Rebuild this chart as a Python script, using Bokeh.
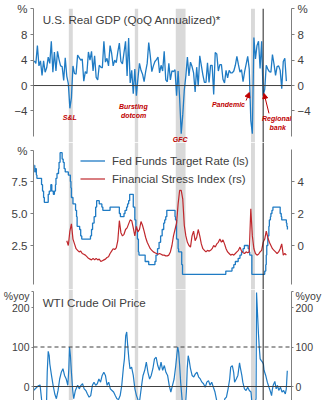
import numpy as np
from bokeh.plotting import figure
from bokeh.layouts import column
from bokeh.models import (Range1d, LinearAxis, FixedTicker, Span, BoxAnnotation,
                          Label, Arrow, NormalHead, Legend, LegendItem, NumeralTickFormatter)
from bokeh.embed import file_html
from bokeh.resources import INLINE

# ---------------- data ----------------
recessions = [(1990.58, 1991.22), (2001.25, 2001.79), (2007.87, 2009.45), (2020.03, 2020.67)]
marker_year = 2022.0

# U.S. real GDP, QoQ annualized (%), quarterly from 1985Q1, capped as drawn
gdp = [3.9, 3.5, 6.3, 3.1, 3.9, 1.6, 3.9, 2.1, 2.8, 4.5, 3.5, 7.0, 2.1, 5.3, 2.3, 5.4,
       4.1, 3.1, 3.0, 0.8, 4.4, 1.5, 0.3, -3.6, -1.9, 3.1, 1.9, 1.8, 4.8, 4.4, 4.0, 4.2,
       0.7, 2.2, 1.9, 5.3, 4.0, 5.4, 2.3, 4.7, 1.3, 0.9, 3.2, 2.9, 2.8, 7.0, 3.7, 4.3,
       3.1, 6.3, 5.1, 3.1, 4.0, 3.6, 5.3, 6.7, 3.8, 3.4, 5.2, 7.0, 1.5, 7.5, 0.4, 2.4,
       -1.3, 2.6, -1.6, 1.1, 3.5, 2.4, 1.8, 0.6, 2.2, 3.5, 6.8, 4.7, 2.2, 3.1, 3.8, 4.1,
       4.5, 2.0, 3.2, 2.3, 5.4, 0.9, 0.6, 3.5, 0.9, 2.3, 2.2, 2.5, -1.6, 2.3, -2.1, -7.6,
       -4.6, -0.7, 1.5, 4.5, 1.5, 3.7, 3.0, 2.0, -1.0, 2.9, -0.1, 4.7, 3.2, 1.7, 0.5, 0.5,
       3.6, 0.5, 3.2, 3.2, -1.4, 5.2, 5.0, 2.3, 3.3, 3.3, 1.0, 0.4, 2.4, 1.2, 2.4, 2.0,
       2.0, 2.3, 3.2, 4.6, 3.3, 2.1, 2.5, 0.6, 2.2, 3.4, 4.6, 2.6, -5.5, -7.6, 7.6, 4.2,
       6.3, 7.0, 2.7, 7.0, -1.6, -0.6, 3.2, 2.6, 2.2, 2.1, 4.9, 3.4, 1.6, 3.0, 3.1, 2.4,
       -0.5, 3.8, 4.3, 0.7]
gdp_start = 1985.0
gdp_ticks = [-4, 0, 4, 8]

# Fed funds target rate (%), change dates and levels
ff_dates = [1985.0, 1985.08, 1985.17, 1985.33, 1985.42, 1986.17, 1986.33, 1986.5, 1986.62,
            1987.25, 1987.42, 1987.67, 1987.83, 1988.08, 1988.25, 1988.42, 1988.5, 1988.67,
            1988.92, 1989.0, 1989.17, 1989.5, 1989.67, 1989.83, 1990.0, 1990.5, 1990.83,
            1990.92, 1991.0, 1991.25, 1991.67, 1991.83, 1991.92, 1992.33, 1992.5, 1992.67,
            1994.08, 1994.25, 1994.42, 1994.67, 1994.92, 1995.08, 1995.5, 1995.92, 1996.08,
            1997.25, 1998.75, 1998.92, 1999.5, 1999.67, 1999.92, 2000.08, 2000.25, 2000.42,
            2001.0, 2001.25, 2001.42, 2001.67, 2001.83, 2001.92, 2002.92, 2003.5, 2004.5,
            2004.67, 2004.92, 2005.17, 2005.42, 2005.67, 2005.92, 2006.08, 2006.25, 2006.42,
            2007.75, 2007.83, 2008.0, 2008.25, 2008.33, 2008.83, 2008.96, 2015.96, 2016.96,
            2017.25, 2017.5, 2017.96, 2018.25, 2018.5, 2018.75, 2018.96, 2019.58, 2019.75,
            2019.83, 2020.17, 2022.25, 2022.42, 2022.5, 2022.58, 2022.75, 2022.92, 2023.0,
            2023.17, 2023.25, 2023.42, 2023.58, 2024.75, 2024.92, 2025.0, 2025.75, 2025.83,
            2025.92]
ff_rates = [8.75, 8.25, 8.5, 8.0, 7.75, 7.25, 6.75, 6.25, 5.875,
            6.5, 6.75, 7.25, 6.75, 6.5, 6.75, 7.25, 7.75, 8.125,
            8.5, 9.0, 9.75, 9.25, 9.0, 8.5, 8.25, 8.0, 7.5,
            7.0, 6.25, 5.75, 5.25, 4.75, 4.0, 3.75, 3.25, 3.0,
            3.25, 3.75, 4.25, 4.75, 5.5, 6.0, 5.75, 5.5, 5.25,
            5.5, 5.0, 4.75, 5.0, 5.25, 5.5, 5.75, 6.0, 6.5,
            5.5, 4.5, 3.75, 3.0, 2.0, 1.75, 1.25, 1.0, 1.25,
            1.75, 2.25, 2.75, 3.25, 3.75, 4.25, 4.5, 4.75, 5.25,
            4.75, 4.5, 3.0, 2.25, 2.0, 1.0, 0.25, 0.5, 0.75,
            1.0, 1.25, 1.5, 1.75, 2.0, 2.25, 2.5, 2.25, 2.0,
            1.75, 0.25, 0.5, 1.0, 1.75, 2.5, 3.25, 4.0, 4.5,
            4.75, 5.0, 5.25, 5.5, 5.0, 4.75, 4.5, 4.25, 4.0,
            3.75]
ff_ticks = [2.5, 5.0, 7.5]

# Financial stress index (rs), quarterly from 1990Q2
fsi = [0.3, 0.0, 0.9, 1.35, 0.4, 0.1, -0.2, -0.3, -0.4, -0.35, -0.5, -0.55, -0.6, -0.7,
       -0.8, -0.85, -0.9, -0.8, -0.9, -0.8, -0.9, -0.85, -1.0, -0.95, -0.9, -0.85, -0.75,
       -0.7, -0.5, -0.35, -0.2, -0.25, -0.15, 0.3, 1.55, 0.8, 0.6, 0.7, 1.0, 1.1, 1.35,
       1.6, 1.55, 1.1, 0.6, 1.2, 0.85, 1.0, 1.5, 1.25, 0.9, 0.5, 0.2, 0.0, -0.2, -0.3,
       -0.4, -0.45, -0.5, -0.55, -0.5, -0.55, -0.6, -0.6, -0.65, -0.65, -0.6, -0.4, 0.0,
       0.6, 1.0, 1.4, 2.6, 3.45, 3.45, 2.9, 1.25, 0.6, 0.2, 0.0, -0.1, 0.6, 0.9, 0.3, 0.5,
       1.0, 0.6, 0.1, -0.2, -0.3, -0.4, -0.3, -0.35, -0.3, -0.2, 0.0, -0.1, 0.1, 0.2, 0.4,
       0.2, 0.35, 0.1, -0.2, -0.4, -0.5, -0.6, -0.55, -0.6, -0.5, -0.4, -0.3, -0.1, -0.35,
       -0.45, -0.5, -0.4, -0.45, -0.4, 2.3, 0.6, -0.2, -0.5, -0.6, -0.55, -0.4, -0.3, 0.2,
       0.4, 0.9, 0.5, 0.2, 0.0, -0.2, -0.3, -0.4, -0.5, -0.4, -0.2, 0.1, -0.6, -0.5, -0.6]
fsi_start = 1990.25
fsi_ticks = [0, 2, 4]

# WTI crude oil price, % yoy
oil_dates = [1984.87, 1985.40, 1985.66, 1985.93, 1986.19, 1986.46, 1986.72, 1986.98, 1987.09,
             1987.25, 1987.41, 1987.51, 1987.78, 1988.04, 1988.31, 1988.57, 1988.84, 1989.10,
             1989.36, 1989.63, 1989.89, 1990.16, 1990.42, 1990.58, 1990.69, 1990.84, 1991.00,
             1991.21, 1991.37, 1991.64, 1992.01, 1992.27, 1992.54, 1992.80, 1993.06, 1993.33,
             1993.59, 1993.86, 1994.12, 1994.39, 1994.65, 1994.92, 1995.18, 1995.44, 1995.71,
             1995.97, 1996.24, 1996.50, 1996.77, 1997.03, 1997.29, 1997.56, 1997.82, 1998.09,
             1998.35, 1998.62, 1998.88, 1999.14, 1999.41, 1999.57, 1999.78, 1999.94, 2000.10,
             2000.31, 2000.47, 2000.73, 2001.00, 2001.26, 2001.52, 2001.79, 2001.95, 2002.21,
             2002.42, 2002.58, 2002.85, 2003.11, 2003.37, 2003.64, 2003.90, 2004.17, 2004.43,
             2004.70, 2004.96, 2005.22, 2005.49, 2005.75, 2006.02, 2006.28, 2006.55, 2006.81,
             2007.07, 2007.34, 2007.60, 2007.87, 2008.03, 2008.19, 2008.34, 2008.50, 2008.66,
             2008.93, 2009.19, 2009.45, 2009.61, 2009.72, 2009.88, 2010.04, 2010.25, 2010.51,
             2010.78, 2011.04, 2011.30, 2011.57, 2011.83, 2012.10, 2012.36, 2012.63, 2012.89,
             2013.16, 2013.42, 2013.68, 2013.95, 2014.21, 2014.48, 2014.90, 2015.27, 2015.64,
             2015.80, 2016.06, 2016.33, 2016.59, 2016.75, 2017.01, 2017.23, 2017.38, 2017.65,
             2017.91, 2018.18, 2018.34, 2018.55, 2018.71, 2018.97, 2019.23, 2019.50, 2019.76,
             2020.03, 2020.29, 2020.61, 2020.85, 2020.93, 2021.24, 2021.35, 2021.51, 2021.67,
             2021.88, 2022.04, 2022.14, 2022.41, 2022.67, 2022.94, 2023.20, 2023.36, 2023.46,
             2023.62, 2023.89, 2024.10, 2024.31, 2024.52, 2024.79, 2025.05, 2025.31, 2025.58,
             2025.74, 2025.90]
oil_yoy = [-10, -2, 2, 4, -35, -50, -55, -40, 36,
           89, 78, 57, 28, 3, -19, -31, -10, 19,
           36, 45, 28, 19, 3, 45, 100, 78, 36,
           -10, -31, -10, 3, -6, 3, 7, -6, -10,
           -19, -27, -23, 3, 11, 3, 7, 19, 11,
           28, 36, 28, 3, 11, -6, -10, -14, -23,
           -31, -33, -23, 3, 49, 70, 129, 138, 104,
           66, 45, 49, 28, -6, -23, -35, -45, -14,
           11, 28, 41, 62, 36, 19, 28, 45, 70,
           74, 53, 41, 62, 41, 53, 36, 28, 3,
           -14, 3, 19, 53, 78, 100, 87, 53, 11,
           -40, -55, -45, -6, 45, 78, 66, 45, 28,
           24, 32, 36, 24, 19, 11, 7, -2, 11,
           15, 3, 11, -2, -14, -35, -45, -50, -45,
           -31, -27, -6, 19, 49, 53, 36, 11, 19,
           28, 60, 45, 28, 11, -6, -10, -2, -10,
           -14, -60, -50, -30, 238, 133, 104, 70, 66,
           62, 57, 41, 28, 11, -2, -14, -23, -10,
           3, 13, -6, 3, -10, -2, -14, -10, -19,
           -6, 40]
oil_ticks = [0, 100, 200]

# ---------------- style ----------------
BLUE = "#1F7BC4"
RED = "#C0282D"
ANN = "#C00000"
AXC = "#7F7F7F"
TXT = "#404040"
BAND = "#D9D9D9"
FONT = "Liberation Sans"
X0, X1 = 1984.87, 2026.58


def make_fig(h, yr, top):
    p = figure(width=324, height=h, x_range=Range1d(X0, X1), y_range=Range1d(*yr),
               x_axis_type=None, y_axis_type=None, toolbar_location=None,
               output_backend="svg", min_border_left=30, min_border_right=31,
               min_border_top=top, min_border_bottom=0)
    p.outline_line_color = None
    p.background_fill_color = "white"
    p.border_fill_color = "white"
    for a, b in recessions:
        p.add_layout(BoxAnnotation(left=a, right=b, fill_color=BAND, fill_alpha=1.0,
                                   line_color=None, level="underlay"))
    p.add_layout(Span(location=marker_year, dimension="height", line_color="#222222",
                      line_width=1))
    return p


def add_axis(p, side, ticks, bounds, unit_at, unit, fmt=None, rname="default",
             size="11.5px", tick_out=3, standoff=3):
    ax = LinearAxis(ticker=FixedTicker(ticks=list(ticks) + [unit_at]), bounds=bounds,
                    y_range_name=rname,
                    axis_line_color=AXC, axis_line_width=1,
                    major_tick_line_color=AXC, major_tick_out=tick_out, major_tick_in=0,
                    minor_tick_out=0, minor_tick_in=0,
                    major_label_text_font=FONT, major_label_text_font_size=size,
                    major_label_text_color=TXT, major_label_standoff=standoff)
    if fmt:
        ax.formatter = NumeralTickFormatter(format=fmt)
    ax.major_label_overrides = {unit_at: unit}
    p.add_layout(ax, side)


def txt(p, x, y, s, size="11.5px", color=TXT, align="left", style="normal"):
    p.add_layout(Label(x=x, y=y, text=s, text_font=FONT, text_font_size=size,
                       text_color=color, text_align=align, text_baseline="middle",
                       text_font_style=style))


# ---------------- top: GDP ----------------
p1 = make_fig(142, (-9.0, 12.17), 8)
add_axis(p1, "left", gdp_ticks, (-8.06, 12.1), 12.1, "%")
add_axis(p1, "right", gdp_ticks, (-8.06, 12.1), 12.1, "%")
p1.add_layout(Span(location=0, dimension="width", line_color="#404040", line_width=1))
gdp_x = gdp_start + 0.25 * np.arange(len(gdp))
p1.line(gdp_x, gdp, line_color=BLUE, line_width=1.3)
txt(p1, 1986.35, 10.38, "U.S. Real GDP (QoQ Annualized)*", size="11.6px")
for x, y, s in [(1990.74, -5.05, "S&L"), (2001.0, -3.3, "Bursting"), (2001.05, -4.74, "dotcom"),
                (2008.58, -8.58, "GFC"), (2016.39, -2.92, "Pandemic"),
                (2024.2, -5.17, "Regional"), (2024.36, -6.56, "bank")]:
    txt(p1, x, y, s, size="7px", color=ANN, align="center", style="bold italic")
for xs, ys, xe, ye in [(2019.24, -2.37, 2019.76, -1.1), (2022.94, -4.4, 2022.14, -1.26)]:
    p1.add_layout(Arrow(end=NormalHead(size=5, fill_color=ANN, line_color=ANN, line_width=1),
                        x_start=xs, y_start=ys, x_end=xe, y_end=ye,
                        line_color=ANN, line_width=1))

# ---------------- middle: Fed funds & FSI ----------------
p2 = make_fig(147, (-0.9375, 10.547), 0)
p2.extra_y_ranges = {"r": Range1d(-2.75, 6.4375)}
add_axis(p2, "left", ff_ticks, (-0.547, 9.92), 9.92, "%", fmt="0.0")
ax_r = LinearAxis(ticker=FixedTicker(ticks=fsi_ticks), bounds=(-2.4375, 6.0), y_range_name="r",
                  axis_line_color=AXC, major_tick_line_color=AXC, major_tick_out=3,
                  major_tick_in=0, minor_tick_out=0, minor_tick_in=0,
                  major_label_text_font=FONT, major_label_text_font_size="11.5px",
                  major_label_text_color=TXT, major_label_standoff=3)
p2.add_layout(ax_r, "right")
r_ff = p2.step(ff_dates, ff_rates, mode="after", line_color=BLUE, line_width=1.3)
fsi_x = fsi_start + 0.25 * np.arange(len(fsi))
r_fsi = p2.line(fsi_x, fsi, line_color=RED, line_width=1.2, y_range_name="r")
leg = Legend(items=[LegendItem(label="Fed Funds Target Rate (ls)", renderers=[r_ff]),
                    LegendItem(label="Financial Stress Index (rs)", renderers=[r_fsi])],
             location=(47, 103), orientation="vertical", background_fill_alpha=0,
             border_line_color=None, padding=0, margin=0, spacing=3,
             glyph_width=25, glyph_height=15, label_height=15, label_standoff=7,
             label_text_font=FONT, label_text_font_size="11.5px", label_text_color=TXT)
p2.add_layout(leg)

# ---------------- bottom: WTI oil ----------------
p3 = make_fig(111, (-35.44, 245.57), 0)
add_axis(p3, "left", oil_ticks, (-35.44, 241.0), 241.0, "%yoy", size="10.5px",
         tick_out=2, standoff=2)
add_axis(p3, "right", oil_ticks, (-35.44, 241.0), 241.0, "%yoy", size="10.5px",
         tick_out=2, standoff=2)
p3.add_layout(Span(location=0, dimension="width", line_color="#404040", line_width=1))
p3.add_layout(Span(location=100, dimension="width", line_color="#404040", line_width=1,
                   line_dash="4 3"))
p3.line(oil_dates, oil_yoy, line_color=BLUE, line_width=1.2)
txt(p3, 1986.35, 213.4, "WTI Crude Oil Price", size="11.6px")

layout = column(p1, p2, p3, spacing=0)
open("out.html", "w").write(file_html(layout, INLINE))
